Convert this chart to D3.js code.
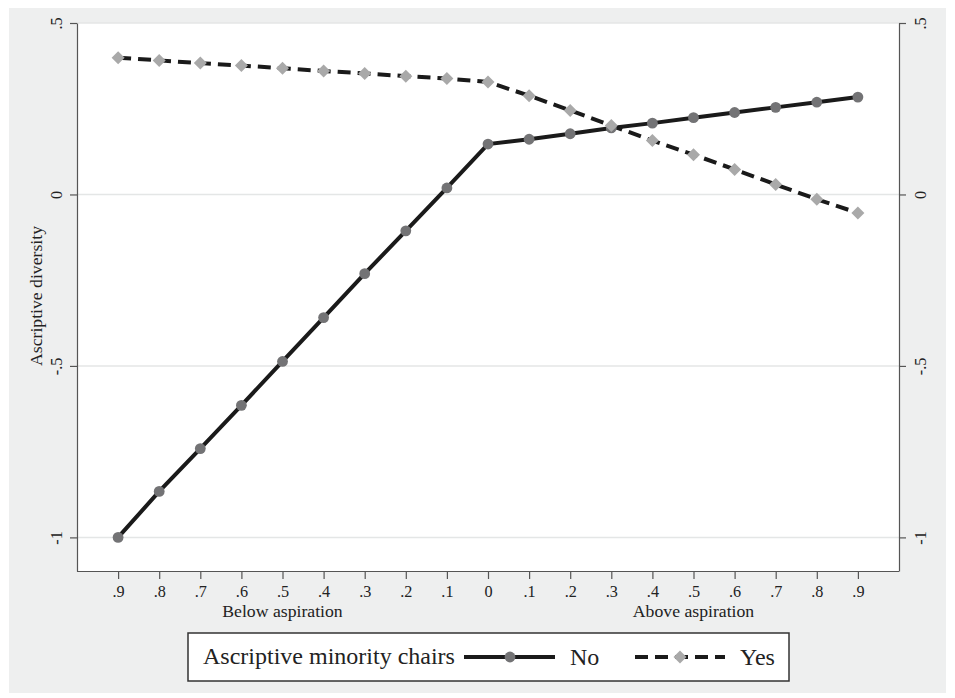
<!DOCTYPE html>
<html><head><meta charset="utf-8">
<script src="https://cdn.jsdelivr.net/npm/d3@7"></script>
<style>body{margin:0;background:#fff}svg{display:block}text{font-family:"Liberation Serif","Times New Roman",serif;fill:#222}</style>
</head><body>
<svg id="c" width="955" height="698"></svg>
<script>
const xLabels = [".9",".8",".7",".6",".5",".4",".3",".2",".1","0",".1",".2",".3",".4",".5",".6",".7",".8",".9"];
const noValues = [-1.0,-0.866,-0.741,-0.615,-0.487,-0.359,-0.231,-0.106,0.019,0.147,0.161,0.177,0.194,0.208,0.224,0.239,0.254,0.269,0.284];
const yesValues = [0.399,0.391,0.383,0.376,0.368,0.360,0.353,0.345,0.338,0.328,0.288,0.245,0.201,0.157,0.116,0.073,0.029,-0.014,-0.054];
const yTicks = [-1,-0.5,0,0.5];
const yTickLabels = ["-1","-.5","0",".5"];
const legendTitle = "Ascriptive minority chairs";
const seriesNames = ["No","Yes"];

const svg = d3.select("#c");
svg.append("rect").attr("x",9).attr("y",8).attr("width",937).attr("height",685).attr("fill","#eeefef");

const L=77,R=899,T=23,B=571;
svg.append("rect").attr("x",L).attr("y",T).attr("width",R-L).attr("height",B-T).attr("fill","#fff");

const x = d3.scaleLinear().domain([-1,19]).range([L,R]);
const y = d3.scaleLinear().domain([-1.098,0.5]).range([B,T]);

// gridlines
svg.append("g").selectAll("line").data(yTicks).join("line")
  .attr("x1",L).attr("x2",R).attr("y1",d=>y(d)).attr("y2",d=>y(d))
  .attr("stroke","#e4e6e6").attr("stroke-width",1.5);

const FS = 17.7, TFS = 16.2;
// axes
const axL = d3.axisLeft(y).tickValues(yTicks).tickSize(7).tickFormat((d,i)=>yTickLabels[i]);
const axR = d3.axisRight(y).tickValues(yTicks).tickSize(7).tickFormat((d,i)=>yTickLabels[i]);
const axB = d3.axisBottom(x).tickValues(d3.range(19)).tickSize(8).tickFormat(i=>xLabels[i]);

function styleAxis(g){
  g.select(".domain").attr("stroke","#555").attr("stroke-width",1.2);
  g.selectAll(".tick line").attr("stroke","#555").attr("stroke-width",1.2);
  g.selectAll("text").attr("font-family","Liberation Serif, serif").attr("font-size",TFS).attr("fill","#222");
}
const gL = svg.append("g").attr("transform",`translate(${L},0)`).call(axL.tickSizeOuter(0));
styleAxis(gL);
gL.selectAll(".tick text").attr("x",null).attr("dy",null)
  .attr("text-anchor","middle").attr("transform","translate(-15,0) rotate(-90)");
const gR = svg.append("g").attr("transform",`translate(${R},0)`).call(axR.tickSizeOuter(0));
styleAxis(gR);
gR.selectAll(".tick text").attr("x",null).attr("dy",null)
  .attr("text-anchor","middle").attr("transform","translate(27,0) rotate(-90)");
const gB = svg.append("g").attr("transform",`translate(0,${B})`).call(axB.tickSizeOuter(0));
styleAxis(gB);
gB.select(".domain").attr("d",`M${L},0.5H${R}`);
gB.selectAll(".tick text").attr("dy",null).attr("y",25.5);

svg.append("text").attr("x",x(4)).attr("y",617).attr("text-anchor","middle").attr("font-size",FS).text("Below aspiration");
svg.append("text").attr("x",x(14)).attr("y",617).attr("text-anchor","middle").attr("font-size",FS).text("Above aspiration");
svg.append("text").attr("transform",`translate(42,296) rotate(-90)`).attr("text-anchor","middle").attr("font-size",FS).text("Ascriptive diversity");

// lines
const line = d3.line().x((d,i)=>x(i)).y(d=>y(d));
svg.append("path").datum(noValues).attr("d",line).attr("fill","none").attr("stroke","#1a1a1a").attr("stroke-width",4);
svg.append("path").datum(yesValues).attr("d",line).attr("fill","none").attr("stroke","#1a1a1a").attr("stroke-width",4).attr("stroke-dasharray","13,7");

svg.append("g").selectAll("circle").data(noValues).join("circle")
  .attr("cx",(d,i)=>x(i)).attr("cy",d=>y(d)).attr("r",5.4).attr("fill","#737375");
const dr = 6.5;
const diamond = `M0,${-dr}L${dr},0L0,${dr}L${-dr},0Z`;
svg.append("g").selectAll("path").data(yesValues).join("path")
  .attr("d",diamond).attr("transform",(d,i)=>`translate(${x(i)},${y(d)})`).attr("fill","#a9a9a9");

// legend
const lg = svg.append("g");
lg.append("rect").attr("x",188).attr("y",633).attr("width",601).attr("height",48).attr("fill","#fff").attr("stroke","#333").attr("stroke-width",1.5);
lg.append("text").attr("x",203).attr("y",664).attr("font-size",24).text(legendTitle);
const ly=657;
lg.append("line").attr("x1",464).attr("x2",555).attr("y1",ly).attr("y2",ly).attr("stroke","#1a1a1a").attr("stroke-width",4);
lg.append("circle").attr("cx",510).attr("cy",ly).attr("r",5.4).attr("fill","#737375");
lg.append("text").attr("x",570).attr("y",665).attr("font-size",24).text(seriesNames[0]);
lg.append("line").attr("x1",635).attr("x2",725).attr("y1",ly).attr("y2",ly).attr("stroke","#1a1a1a").attr("stroke-width",4).attr("stroke-dasharray","13,7");
lg.append("path").attr("d",diamond).attr("transform",`translate(680,${ly})`).attr("fill","#a9a9a9");
lg.append("text").attr("x",740).attr("y",665).attr("font-size",24).text(seriesNames[1]);
</script>
</body></html>
